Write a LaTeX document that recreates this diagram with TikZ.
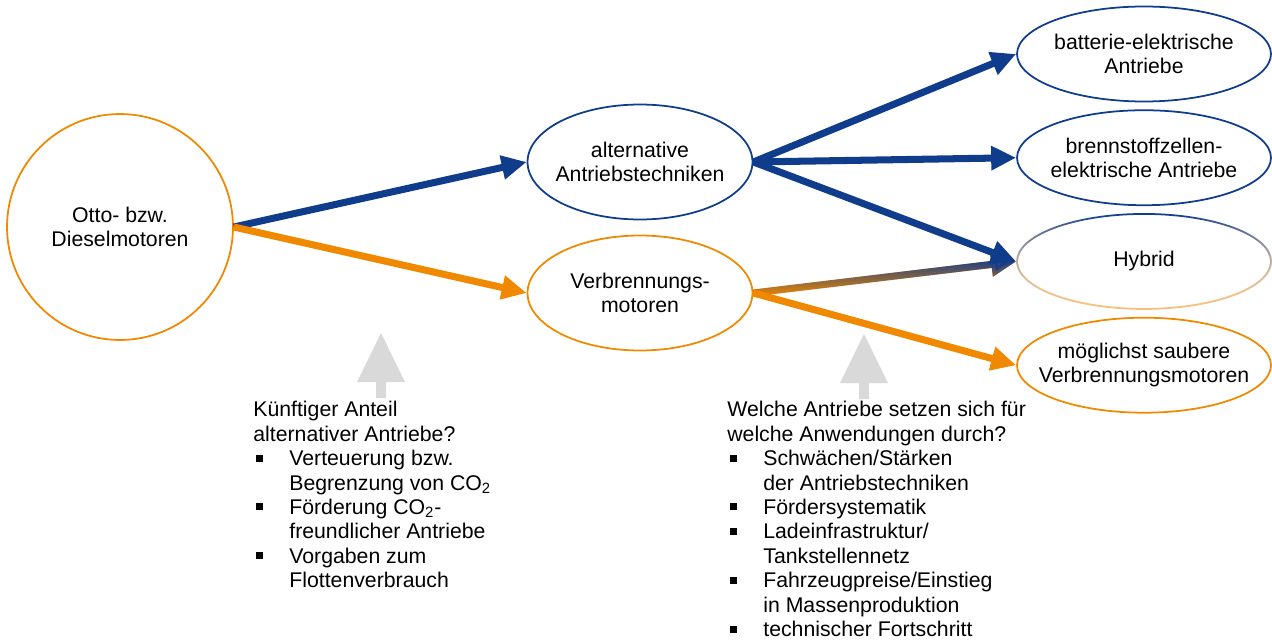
\documentclass[tikz,border=0pt]{standalone}
\usepackage{fontspec}
\setmainfont{Liberation Sans}
\usetikzlibrary{arrows.meta,shapes.geometric,fadings,positioning}
\definecolor{navy}{RGB}{16,60,140}
\definecolor{amber}{RGB}{240,136,0}
\definecolor{hintgray}{RGB}{217,217,217}
\tikzfading[name=tipfade, top color=transparent!0, middle color=transparent!85, bottom color=transparent!100]
\newcommand{\sqb}{\makebox[0.72cm][l]{\hspace{0.06cm}\raisebox{0.08cm}{\rule{0.14cm}{0.14cm}}}}
\newcommand{\ind}{\hspace*{0.72cm}}

\begin{document}
\begin{tikzpicture}[x=0.02cm,y=-0.02cm,font=\fontsize{12.1pt}{13.9pt}\selectfont,
	big/.style={circle,draw=amber,line width=1pt,minimum size=4.52cm,inner sep=0,align=center},
	mid/.style={ellipse,line width=1pt,minimum width=4.5cm,minimum height=2.3cm,inner xsep=-0.4cm,inner ysep=0,align=center},
	tgt/.style={ellipse,line width=1pt,minimum width=5.08cm,minimum height=1.9cm,inner xsep=-0.6cm,inner ysep=0,align=center},
	bflow/.style={draw=navy,line width=4pt,-{Triangle[length=0.5cm,width=0.46cm]}},
	oflow/.style={draw=amber,line width=4pt,-{Triangle[length=0.5cm,width=0.46cm]}},
	note/.style={anchor=north west,align=left,inner sep=0},
	hint/.style={fill=hintgray}]

	\useasboundingbox (0,0) rectangle (1272,642);

	\node[big] (otto) at (120,227) {Otto- bzw.\\Dieselmotoren};
	\node[mid, draw=navy] (alt) at (640,162) {alternative\\Antriebstechniken};
	\node[mid, draw=amber] (verb) at (640,293) {Verbrennungs-\\motoren};

	\node[tgt, draw=navy] (batt) at (1144,54) {batterie-elektrische\\Antriebe};
	\node[tgt, draw=navy] (fuel) [below=0.14cm of batt] {brennstoffzellen-\\elektrische Antriebe};
	\node[tgt] (hyb) [below=0.14cm of fuel] {Hybrid};
	\draw[draw=navy, line width=1pt, path fading=south] (hyb.center) ellipse [x radius=2.54cm, y radius=0.95cm];
	\draw[draw=amber!55, line width=1pt, path fading=north] (hyb.center) ellipse [x radius=2.54cm, y radius=0.95cm];
	\node[tgt, draw=amber] (clean) [below=0.14cm of hyb] {möglichst saubere\\Verbrennungsmotoren};

	\draw[bflow] (otto.east) -- (alt.west);
	\draw[oflow] (otto.east) -- (verb.west);

	\draw[oflow] (verb.east) -- (hyb.west);
	\draw[bflow, path fading=tipfade] (verb.east) -- (hyb.west);
	\draw[oflow] (verb.east) -- (clean.west);

	\draw[bflow] (alt.east) -- (batt.west);
	\draw[bflow] (alt.east) -- (fuel.west);
	\draw[bflow] (alt.east) -- (hyb.west);

	\node[note] (share) at (253,401) {Künftiger Anteil\\alternativer Antriebe?\\
		\sqb Verteuerung bzw.\\\ind Begrenzung von CO\textsubscript{2}\\
		\sqb Förderung CO\textsubscript{2}-\\\ind freundlicher Antriebe\\
		\sqb Vorgaben zum\\\ind Flottenverbrauch};
	\node[note] (which) at (727,401) {Welche Antriebe setzen sich für\\welche Anwendungen durch?\\
		\sqb Schwächen/Stärken\\\ind der Antriebstechniken\\
		\sqb Fördersystematik\\
		\sqb Ladeinfrastruktur/\\\ind Tankstellennetz\\
		\sqb Fahrzeugpreise/Einstieg\\\ind in Massenproduktion\\
		\sqb technischer Fortschritt};

	\coordinate (sharetip) at (381,333);
	\coordinate (whichtip) at (864,334);
	\fill[hint] (sharetip) -- ++(24,49) -- ++(-19,0) -- ++(0,16) -- ++(-10,0) -- ++(0,-16) -- ++(-19,0) -- cycle;
	\fill[hint] (whichtip) -- ++(24,49) -- ++(-19,0) -- ++(0,16) -- ++(-10,0) -- ++(0,-16) -- ++(-19,0) -- cycle;

\end{tikzpicture}
\end{document}
